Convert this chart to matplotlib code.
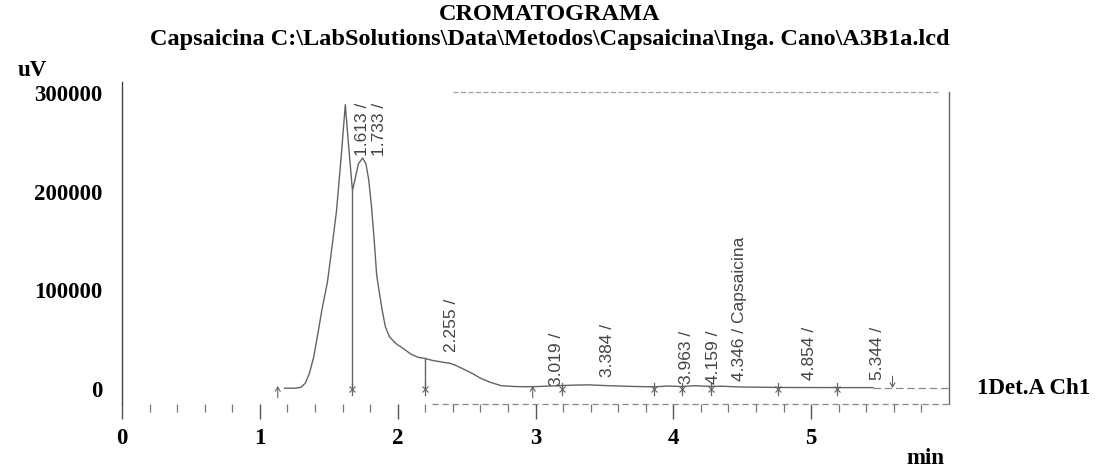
import matplotlib
matplotlib.use("Agg")
import matplotlib.pyplot as plt
import numpy as np

# Detector trace (retention time in min, signal in uV)
time_min = [1.18, 1.26, 1.30, 1.33, 1.36, 1.39, 1.42, 1.45, 1.49, 1.52, 1.556, 1.59,
            1.62, 1.645, 1.672, 1.69, 1.715, 1.746, 1.77, 1.79, 1.81, 1.83, 1.848,
            1.87, 1.89, 1.911, 1.94, 1.987, 2.02, 2.06, 2.10, 2.15, 2.196, 2.25,
            2.317, 2.38, 2.42, 2.48, 2.546, 2.60, 2.67, 2.75, 2.85, 2.93, 3.00,
            3.10, 3.195, 3.30, 3.384, 3.50, 3.70, 3.86, 3.963, 4.06, 4.159, 4.27,
            4.346, 4.50, 4.76, 4.854, 5.00, 5.19, 5.344, 5.45]
signal_uv = [800, 800, 1800, 6000, 16000, 32000, 55000, 80000, 108000, 140000, 180000,
             235000, 288000, 245000, 201000, 212000, 228000, 234000, 228000, 212000,
             185000, 150000, 115000, 95000, 78000, 63000, 53000, 46000, 43000, 39000,
             35000, 32000, 31000, 29000, 27400, 26000, 24000, 20000, 15400, 11000,
             6900, 3400, 2500, 2300, 2400, 3000, 3500, 4000, 4200, 3500, 2600, 2200,
             3000, 2500, 3300, 2600, 2800, 2000, 1600, 1500, 1500, 1400, 1400, 1400]

# Peak table
peak_rt = [1.613, 1.733, 2.255, 3.019, 3.384, 3.963, 4.159, 4.346, 4.854, 5.344]
peak_names = ["", "", "", "", "", "", "", "Capsaicina", "", ""]
label_base_uv = [236000, 236000, 37000, 3000, 12000, 5000, 5000, 8000, 9000, 9000]

# Integration marks
start_marks = [1.13, 2.98]
boundary_marks = [1.672, 2.196, 3.195, 3.86, 4.06, 4.27, 4.76, 5.19]
end_marks = [5.59]
drop_lines = [(1.672, 201000), (2.196, 31000)]

y_ticks = [0, 100000, 200000, 300000]
x_ticks = [0, 1, 2, 3, 4, 5]

serif = ["Liberation Serif", "DejaVu Serif"]
narrow = ["Liberation Sans Narrow", "Liberation Sans", "DejaVu Sans"]
trace_col = "#636363"

fig = plt.figure(figsize=(10.97, 4.70), dpi=100)
ax = fig.add_axes([122 / 1097, 66 / 470, 827 / 1097, 322 / 470])
ax.set_xlim(0, 6.0)
ax.set_ylim(-15200, 311000)

ax.plot(time_min, signal_uv, color=trace_col, lw=1.0)
ax.plot([time_min[-1], 6.0], [signal_uv[-1], signal_uv[-1]], color="#8a8a8a",
        lw=0.9, ls=(0, (6, 3)))

# drop lines and integration marks
for t, v in drop_lines:
    ax.plot([t, t], [0, v], color=trace_col, lw=1.0)
for t in boundary_marks:
    ax.plot([t, t], [-6500, 6500], color=trace_col, lw=0.9)
    ax.plot([t], [0], marker="x", ms=5, mew=0.8, color=trace_col)
arrow_style = dict(arrowstyle="->,head_length=0.3,head_width=0.18",
                   color=trace_col, lw=0.8, shrinkA=0, shrinkB=0)
for t in start_marks:
    ax.annotate("", xy=(t, 3000), xytext=(t, -9000), arrowprops=arrow_style)
for t in end_marks:
    ax.annotate("", xy=(t, 1000), xytext=(t, 13000), arrowprops=arrow_style)

# peak labels
for rt, name, vb in zip(peak_rt, peak_names, label_base_uv):
    txt = f"{rt:.3f} / {name}".rstrip()
    ax.text(rt + 0.135, vb, txt, rotation=90, ha="center", va="bottom",
            family=narrow, fontsize=12.5, color="#444444")

# frame
for s in ["top", "right", "bottom"]:
    ax.spines[s].set_visible(False)
ax.spines["left"].set_color("#444444")
ax.spines["left"].set_linewidth(1.0)
ax.plot([2.4, 5.93], [301000, 301000], color="#a0a0a0", lw=0.9,
        ls=(0, (4, 2)), clip_on=False)
ax.plot([6.0, 6.0], [-15200, 301000], color="#666666", lw=1.0, clip_on=False)
ax.plot([2.25, 6.0], [-15200, -15200], color="#888888", lw=0.9,
        ls=(0, (5, 3)), clip_on=False)

ax.set_yticks(y_ticks)
ax.set_yticklabels([str(v) for v in y_ticks], family=serif, fontweight="bold",
                   fontsize=16.5)
ax.tick_params(axis="y", length=0, pad=14)
ax.set_xticks(x_ticks)
ax.set_xticklabels([str(v) for v in x_ticks], family=serif, fontweight="bold",
                   fontsize=16.5)
ax.set_xticks(np.arange(0.2, 6.0, 0.2), minor=True)
ax.tick_params(axis="x", which="major", direction="out", length=11, width=1.0,
               color="#555555", pad=6)
ax.tick_params(axis="x", which="minor", direction="out", length=6, width=0.9,
               color="#777777")

fig.text(550 / 1097, 1 - 15 / 470, "CROMATOGRAMA", ha="center", va="center",
         family=serif, fontweight="bold", fontsize=17.5)
fig.text(550 / 1097, 1 - 39 / 470,
         r"Capsaicina C:\LabSolutions\Data\Metodos\Capsaicina\Inga. Cano\A3B1a.lcd",
         ha="center", va="center", family=serif, fontweight="bold", fontsize=17.5)
fig.text(18 / 1097, 1 - 70 / 470, "uV", ha="left", va="center", family=serif,
         fontweight="bold", fontsize=16.5)
fig.text(925 / 1097, 1 - 458 / 470, "min", ha="center", va="center", family=serif,
         fontweight="bold", fontsize=16.5)
fig.text(977 / 1097, 1 - 389 / 470, "1Det.A Ch1", ha="left", va="center",
         family=serif, fontweight="bold", fontsize=16.5)

fig.savefig("out.png", dpi=100)
